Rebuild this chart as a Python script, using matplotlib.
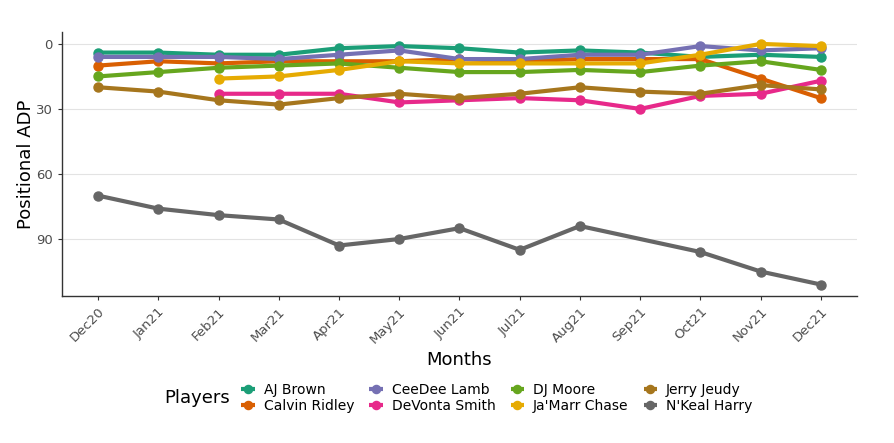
import matplotlib
matplotlib.use("Agg")
import matplotlib.pyplot as plt
import numpy as np

months = ["Dec20", "Jan21", "Feb21", "Mar21", "Apr21", "May21", "Jun21",
          "Jul21", "Aug21", "Sep21", "Oct21", "Nov21", "Dec21"]

nan = np.nan
aj_brown      = [4, 4, 5, 5, 2, 1, 2, 4, 3, 4, 6, 5, 6]
calvin_ridley = [10, 8, 9, 8, 8, 8, 7, 8, 7, 7, 7, 16, 25]
ceedee_lamb   = [6, 6, 6, 7, 5, 3, 7, 7, 5, 5, 1, 3, 2]
devonta_smith = [nan, nan, 23, 23, 23, 27, 26, 25, 26, 30, 24, 23, 17]
dj_moore      = [15, 13, 11, 10, 9, 11, 13, 13, 12, 13, 10, 8, 12]
jamarr_chase  = [nan, nan, 16, 15, 12, 8, 9, 9, 9, 9, 5, 0, 1]
jerry_jeudy   = [20, 22, 26, 28, 25, 23, 25, 23, 20, 22, 23, 19, 21]
nkeal_harry   = [70, 76, 79, 81, 93, 90, 85, 95, 84, nan, 96, 105, 111]

players = ["AJ Brown", "Calvin Ridley", "CeeDee Lamb", "DeVonta Smith",
           "DJ Moore", "Ja'Marr Chase", "Jerry Jeudy", "N'Keal Harry"]
series = [aj_brown, calvin_ridley, ceedee_lamb, devonta_smith,
          dj_moore, jamarr_chase, jerry_jeudy, nkeal_harry]
colors = ["#1B9E77", "#D95F02", "#7570B3", "#E7298A",
          "#66A61E", "#E6AB02", "#A6761D", "#666666"]

fig = plt.figure(figsize=(8.95, 4.43), dpi=100)
ax = fig.add_axes([0.0693, 0.3318, 0.9575 - 0.0693, 0.9278 - 0.3318])

x = np.arange(len(months))
handles = []
for name, vals, c in zip(players, series, colors):
    v = np.array(vals, dtype=float)
    m = ~np.isnan(v)
    h, = ax.plot(x[m], v[m], color=c, lw=3.0, marker="o", ms=6.5,
                 solid_capstyle="butt", label=name)
    handles.append(h)

ax.set_xlim(-0.6, 12.6)
ax.set_ylim(116.3, -5.5)
ax.set_yticks([0, 30, 60, 90])
ax.set_xticks(x)
ax.set_xticklabels(months, rotation=45, ha="right", rotation_mode="anchor")
ax.tick_params(axis="both", colors="#333333", labelcolor="#4D4D4D",
               labelsize=9.5, length=3, width=0.8)
ax.grid(axis="y", color="#E3E3E3", lw=0.8)
ax.set_axisbelow(True)
for s in ["top", "right"]:
    ax.spines[s].set_visible(False)
for s in ["left", "bottom"]:
    ax.spines[s].set_color("#333333")
    ax.spines[s].set_linewidth(1.0)

ax.set_ylabel("Positional ADP", fontsize=13, labelpad=1)
ax.set_xlabel("Months", fontsize=13, labelpad=4)

leg = fig.legend(handles=handles, ncol=4, loc="center",
                 bbox_to_anchor=(0.555, 0.102), frameon=False,
                 fontsize=10, handlelength=1.0, handletextpad=0.6,
                 columnspacing=1.1, labelspacing=0.15, markerscale=0.9)
fig.text(0.184, 0.102, "Players", fontsize=13, va="center", ha="left")

fig.savefig("out.png", dpi=100)
